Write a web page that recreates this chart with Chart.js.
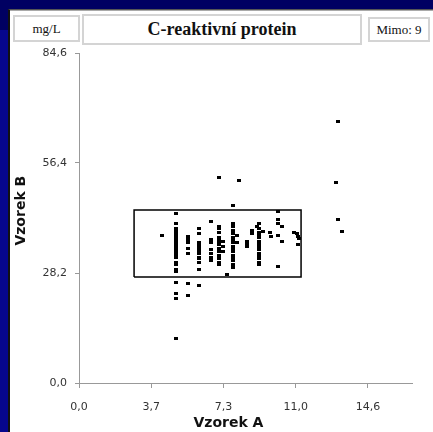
<!DOCTYPE html>
<html>
<head>
<meta charset="utf-8">
<script src="https://cdn.jsdelivr.net/npm/chart.js@4"></script>
<style>
  html, body { margin: 0; padding: 0; }
  body {
    width: 433px; height: 432px;
    background: #000062;
    position: relative;
    overflow: hidden;
  }
  .leftstrip {
    position: absolute;
    left: 0; top: 30px; width: 8px; bottom: 0;
    background: #06068c;
  }
  .panel {
    position: absolute;
    left: 8px; top: 9px; right: 0; bottom: 0;
    background: #fff;
    border-left: 2px solid #111;
    border-top: 1px solid #555;
    box-shadow: inset 0 1px 0 #aaa;
  }
  .box {
    position: absolute;
    box-sizing: border-box;
    border: 2px solid #d4d4d4;
    font-family: "Liberation Serif", serif;
    color: #111;
    display: flex;
    align-items: center;
    justify-content: center;
    background: #fff;
  }
  #unit { left: 13px; top: 15px; width: 67px; height: 27px; font-size: 13px; }
  #title { left: 82px; top: 14px; width: 280px; height: 31px; font-size: 18px; font-weight: bold; }
  #mimo { left: 368px; top: 17px; width: 62px; height: 25px; font-size: 13px; }
  canvas { position: absolute; left: 0; top: 0; }
</style>
</head>
<body>
<div class="leftstrip"></div>
<div class="panel"></div>
<div class="box" id="unit">mg/L</div>
<div class="box" id="title">C-reaktivní protein</div>
<div class="box" id="mimo">Mimo: 9</div>
<canvas id="myChart" width="433" height="432"></canvas>
<script>
// Vzorek A (x) a Vzorek B (y), mg/L
const vzorekA = [
    4.2,
    4.9, 4.9, 4.9, 4.9, 4.9, 4.9, 4.9, 4.9, 4.9, 4.9, 4.9, 4.9, 4.9, 4.9, 4.9, 4.9, 4.9, 4.9, 4.9, 4.9, 4.9, 4.9, 4.9, 4.9, 4.9,
    5.5, 5.5, 5.5, 5.5, 5.5, 5.5, 5.5, 5.5, 5.5,
    6.1, 6.1, 6.1, 6.1, 6.1, 6.1, 6.1, 6.1, 6.1, 6.1, 6.1, 6.1, 6.1, 6.1,
    6.7, 6.7, 6.7, 6.7, 6.7, 6.7, 6.7,
    7.1, 7.1, 7.1, 7.1, 7.1, 7.1, 7.1, 7.1, 7.1, 7.1, 7.1, 7.1, 7.1, 7.1,
    7.3, 7.3, 7.3,
    7.5,
    7.8, 7.8, 7.8, 7.8, 7.8, 7.8, 7.8, 7.8, 7.8, 7.8, 7.8, 7.8, 7.8, 7.8, 7.8, 7.8, 7.8,
    8.0, 8.0, 8.1,
    8.5, 8.5, 8.5,
    8.75, 8.75,
    9.0,
    9.1, 9.1, 9.1, 9.1, 9.1, 9.1, 9.1, 9.1, 9.1, 9.1, 9.1, 9.1, 9.1, 9.1,
    9.3,
    9.7, 9.75,
    10.1, 10.1, 10.1, 10.1, 10.1,
    10.3, 10.3,
    10.9, 11.05, 11.1, 11.15, 11.1,
    13.1, 13.0, 13.1, 13.3
];
const vzorekB = [
    37.9,
    43.5, 40.8, 39.5, 39.0, 38.5, 38.0, 37.4, 36.9, 36.4, 35.9, 35.4, 34.9, 34.4, 33.8, 33.3, 32.8, 32.3, 31.0, 30.5, 29.2, 28.5, 25.8, 23.0, 21.7, 11.5,
    37.5, 37.1, 36.7, 36.3, 35.9, 34.6, 33.3, 25.6, 22.4,
    39.5, 38.2, 36.1, 35.6, 35.1, 34.6, 34.1, 33.6, 33.1, 32.3, 31.8, 30.8, 29.0, 24.9,
    41.5, 36.7, 35.9, 34.1, 33.3, 32.3, 31.5,
    40.2, 39.7, 38.5, 37.4, 36.7, 35.9, 35.4, 34.6, 33.6, 32.8, 32.0, 31.0, 30.3, 52.8,
    36.4, 34.9, 33.6,
    27.9,
    45.5, 41.0, 40.0, 39.2, 38.7, 38.2, 37.4, 36.7, 35.9, 35.1, 34.4, 33.6, 32.8, 32.0, 31.3, 30.5, 29.7,
    37.9, 35.9, 51.9,
    36.2, 35.6, 34.9,
    39.0, 38.4,
    40.2,
    40.8, 39.7, 38.7, 37.9, 37.2, 36.4, 35.6, 34.9, 34.1, 33.3, 32.6, 31.8, 31.0, 30.3,
    38.8,
    38.7, 37.5,
    43.9, 41.8, 40.9, 37.8, 29.8,
    40.1, 36.2,
    38.7, 38.2, 37.6, 37.0, 35.4,
    67.0, 51.3, 41.8, 38.8
];

// obdelnik mezi (A, B)
const boxA = [2.79, 11.25, 11.25, 2.79, 2.79];
const boxB = [27.2, 27.2, 44.35, 44.35, 27.2];

const xTicks = [0, 3.66, 7.32, 10.98, 14.64];
const xTickLabels = ['0,0', '3,7', '7,3', '11,0', '14,6'];
const yTicks = [0, 28.2, 56.4, 84.6];
const yTickLabels = ['0,0', '28,2', '56,4', '84,6'];

// maly cerny obdelnik jako bod
const dot = document.createElement('canvas');
dot.width = 4; dot.height = 3;
const dctx = dot.getContext('2d');
dctx.fillStyle = '#000';
dctx.fillRect(0, 0, 4, 3);

const tickFont = { family: 'DejaVu Sans', size: 11 };
const titleFont = { family: 'DejaVu Sans', size: 14, weight: 'bold' };

const ctx = document.getElementById('myChart').getContext('2d');
new Chart(ctx, {
    type: 'scatter',
    data: {
        datasets: [
            {
                data: vzorekA.map((a, i) => ({ x: a, y: vzorekB[i] })),
                pointStyle: dot,
                pointRadius: 2,
                showLine: false
            },
            {
                data: boxA.map((a, i) => ({ x: a, y: boxB[i] })),
                showLine: true,
                borderColor: '#000',
                borderWidth: 1.5,
                pointRadius: 0,
                fill: false
            }
        ]
    },
    options: {
        responsive: false,
        animation: false,
        events: [],
        layout: { padding: { left: 8, top: 53, right: 21, bottom: 0 } },
        plugins: { legend: { display: false }, tooltip: { enabled: false } },
        scales: {
            x: {
                type: 'linear',
                min: 0,
                max: 16.87,
                afterBuildTicks: (scale) => { scale.ticks = xTicks.map(v => ({ value: v })); },
                afterFit: (scale) => { scale.height = 49; },
                ticks: {
                    callback: (v, i) => xTickLabels[i],
                    font: tickFont,
                    color: '#333',
                    padding: 13,
                    maxRotation: 0,
                    autoSkip: false
                },
                grid: { drawOnChartArea: false, drawTicks: true, tickLength: 5, color: '#999' },
                border: { color: '#999' },
                // mezery navic posouvaji popisek doleva jako v originale
                title: { display: true, text: 'Vzorek A       ', font: titleFont, color: '#111', padding: { top: 2, bottom: 0 } }
            },
            y: {
                type: 'linear',
                min: 0,
                max: 84.6,
                afterBuildTicks: (scale) => { scale.ticks = yTicks.map(v => ({ value: v })); },
                afterFit: (scale) => { scale.width = 71; },
                ticks: {
                    callback: (v, i) => yTickLabels[i],
                    font: tickFont,
                    color: '#333',
                    padding: 8,
                    autoSkip: false
                },
                grid: { drawOnChartArea: false, drawTicks: true, tickLength: 4, color: '#999' },
                border: { color: '#999' },
                title: { display: true, text: '   Vzorek B', font: titleFont, color: '#111', padding: { top: 5, bottom: 0 } }
            }
        }
    }
});
</script>
</body>
</html>
